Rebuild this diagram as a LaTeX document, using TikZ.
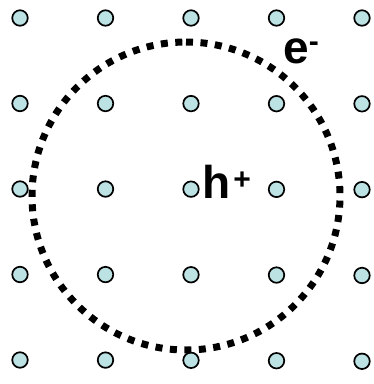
\documentclass[tikz,border=0pt]{standalone}
\usepackage{fontspec}
\setmainfont{Liberation Sans}
\usepackage{xcolor}
\usetikzlibrary{positioning}
\definecolor{sitefill}{RGB}{188,226,228}

\begin{document}
\begin{tikzpicture}[x=1pt,y=-1pt]
\tikzstyle{site}=[circle,draw=black,line width=1.7pt,fill=sitefill,minimum size=15.5pt,inner sep=0pt]
\tikzstyle{orbitline}=[line width=7pt,dash pattern=on 7pt off 7.5pt]
\tikzstyle{carrier}=[inner sep=0pt,anchor=base west,font=\fontsize{46}{46}\selectfont\bfseries]
\useasboundingbox (0,0) rectangle (374,384);
% lattice sites
\foreach \i in {0,...,4}
  \foreach \j in {0,...,4}
    \node[site] (s\i\j) at (20+85.5*\i,18+85.5*\j+0.02*\i*\i*\j) {};
% electron orbit
\coordinate (orbit) at (186,196);
\draw[orbitline] (orbit) ++(0,-154) arc[start angle=-90,end angle=270,radius=154];
% carriers
\node[carrier] (hole) at (202,198) {h\hspace{3pt}\raisebox{9pt}{\fontsize{30}{30}\selectfont +}};
\node[carrier] (electron) at (283,63) {e\raisebox{11.5pt}{\fontsize{30}{30}\selectfont -}};
\end{tikzpicture}
\end{document}
